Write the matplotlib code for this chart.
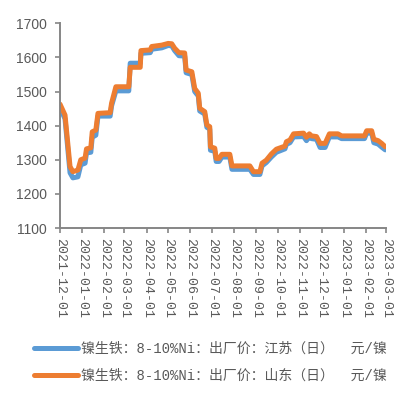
import matplotlib
matplotlib.use("Agg")
import matplotlib.pyplot as plt
import matplotlib.dates as mdates
import pandas as pd

dates = ["2021-12-01", "2021-12-08", "2021-12-15", "2021-12-19", "2021-12-26", "2021-12-30",
         "2022-01-05", "2022-01-07", "2022-01-13", "2022-01-15", "2022-01-20", "2022-01-23",
         "2022-02-09", "2022-02-11", "2022-02-17", "2022-03-07", "2022-03-09", "2022-03-23",
         "2022-03-24", "2022-04-06", "2022-04-08", "2022-04-22", "2022-05-01", "2022-05-06",
         "2022-05-10", "2022-05-16", "2022-05-24", "2022-05-26", "2022-06-03", "2022-06-07",
         "2022-06-12", "2022-06-14", "2022-06-21", "2022-06-24", "2022-06-28", "2022-06-29",
         "2022-07-05", "2022-07-07", "2022-07-11", "2022-07-15", "2022-07-26", "2022-07-29",
         "2022-08-23", "2022-08-28", "2022-09-06", "2022-09-09", "2022-09-15", "2022-09-22",
         "2022-09-29", "2022-10-11", "2022-10-13", "2022-10-18", "2022-10-23", "2022-11-06",
         "2022-11-10", "2022-11-14", "2022-11-17", "2022-11-24", "2022-11-29", "2022-12-06",
         "2022-12-12", "2022-12-24", "2022-12-29", "2023-01-30", "2023-02-02", "2023-02-09",
         "2023-02-12", "2023-02-18", "2023-02-23", "2023-02-28"]

shandong = [1463, 1431, 1280, 1265, 1270, 1300,
            1305, 1332, 1335, 1382, 1387, 1436,
            1438, 1466, 1514, 1514, 1571, 1571,
            1620, 1622, 1632, 1636, 1641, 1640,
            1627, 1614, 1613, 1563, 1558, 1509,
            1495, 1451, 1441, 1402, 1397, 1338,
            1334, 1304, 1304, 1316, 1316, 1282,
            1282, 1265, 1265, 1290, 1299, 1317,
            1331, 1340, 1353, 1358, 1376, 1378,
            1366, 1376, 1370, 1368, 1348, 1348,
            1376, 1376, 1370, 1370, 1385, 1385,
            1360, 1356, 1348, 1338]

jiangsu = [1452, 1420, 1262, 1247, 1250, 1285,
           1290, 1320, 1322, 1366, 1372, 1428,
           1428, 1458, 1502, 1502, 1583, 1583,
           1612, 1614, 1624, 1628, 1635, 1634,
           1620, 1605, 1604, 1555, 1550, 1500,
           1487, 1443, 1434, 1395, 1390, 1328,
           1325, 1295, 1295, 1308, 1308, 1272,
           1272, 1257, 1257, 1282, 1292, 1308,
           1322, 1332, 1345, 1350, 1367, 1368,
           1356, 1368, 1362, 1360, 1336, 1336,
           1367, 1367, 1362, 1362, 1378, 1378,
           1350, 1346, 1337, 1329]

label_js = "镍生铁：8-10%Ni：出厂价：江苏（日）  元/镍"
label_sd = "镍生铁：8-10%Ni：出厂价：山东（日）  元/镍"

x = pd.to_datetime(dates)

fig = plt.figure(figsize=(4.10, 3.97), dpi=100)
ax = fig.add_axes([60/410, 1-228/397, 326/410, (228-23.3)/397])

l1, = ax.plot(x, jiangsu, color="#5B9BD5", lw=3.6, solid_capstyle="round", solid_joinstyle="round")
l2, = ax.plot(x, shandong, color="#ED7D31", lw=3.6, solid_capstyle="round", solid_joinstyle="round")

ax.set_ylim(1100, 1700)
ax.set_yticks(range(1100, 1701, 100))
ax.set_xlim(pd.Timestamp("2021-12-01"), pd.Timestamp("2023-03-01"))
ax.xaxis.set_major_locator(mdates.MonthLocator(bymonthday=1))
ax.xaxis.set_major_formatter(mdates.DateFormatter("%Y-%m-%d"))

for s in ["top", "right"]:
    ax.spines[s].set_visible(False)
for s in ["left", "bottom"]:
    ax.spines[s].set_color("#868686")
    ax.spines[s].set_linewidth(1.4)

ax.tick_params(axis="both", colors="#868686", width=1.2, length=3.6, direction="out")
ax.tick_params(axis="y", pad=6, labelcolor="#595959")
ax.tick_params(axis="x", pad=3.5, labelcolor="#595959")
for t in ax.get_yticklabels():
    t.set_fontfamily("Liberation Sans")
    t.set_fontsize(10)
for t in ax.get_xticklabels():
    t.set_fontfamily("Liberation Mono")
    t.set_fontsize(9.5)
    t.set_rotation(-90)
    t.set_ha("center")
    t.set_va("top")

leg = fig.legend([l1, l2], [label_js, label_sd], loc="upper left",
                 bbox_to_anchor=(34/410, 1-342/397), frameon=False,
                 prop={"family": ["Liberation Mono", "Noto Sans CJK SC"], "size": 10},
                 handlelength=3.15, handletextpad=0.25, labelspacing=0.9,
                 borderaxespad=0, borderpad=0)
for t in leg.get_texts():
    t.set_color("#595959")
for h in leg.get_lines():
    h.set_linewidth(3.6)

fig.savefig("out.png", dpi=100)
